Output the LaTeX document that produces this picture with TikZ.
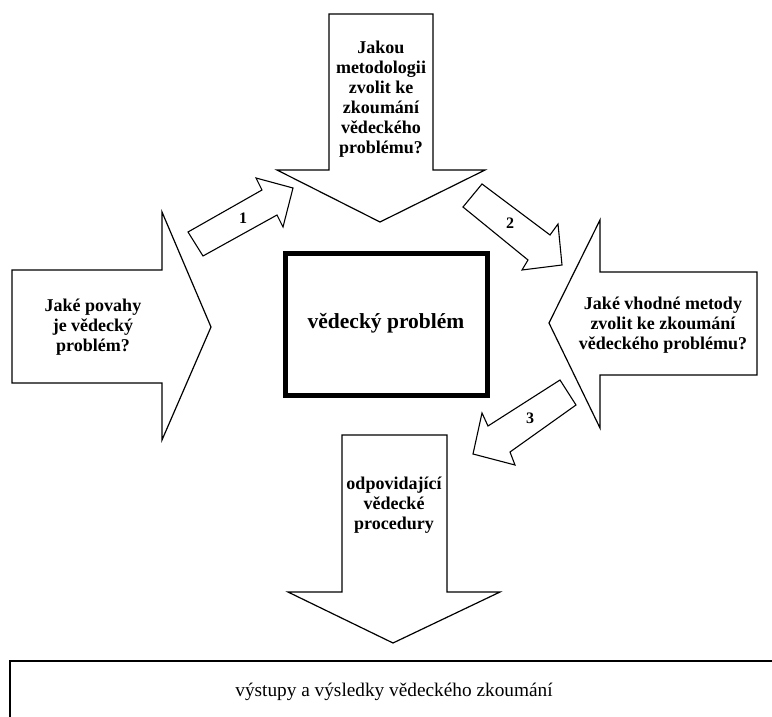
\documentclass[tikz,border=0pt]{standalone}
\usepackage{fontspec}
\setmainfont{Liberation Serif}
\begin{document}
\begin{tikzpicture}[x=1pt,y=-1pt,
  bigarrow/.style={draw=black,line width=1.2pt,line join=miter,fill=white},
  smallarrow/.style={draw=black,line width=1.1pt,line join=miter,fill=white},
  label/.style={align=center,inner sep=0pt,font=\bfseries\fontsize{18}{20}\selectfont},
  num/.style={inner sep=0pt,font=\bfseries\fontsize{16}{16}\selectfont}]
\useasboundingbox (0,0) rectangle (772,717);

% top arrow pointing down at the problem
\draw[bigarrow] (329,14) -- (433,14) -- (433,170) -- (485,170) -- (380,222)
  -- (277,170) -- (329,170) -- cycle;
\node[label] (top) at (381,99) {Jakou\\metodologii\\zvolit ke\\zkoumání\\vědeckého\\problému?};

% left arrow pointing right
\draw[bigarrow] (12,270) -- (162,270) -- (162,212) -- (211,327) -- (162,440)
  -- (162,383) -- (12,383) -- cycle;
\node[label] (left) at (93,327) {Jaké povahy\\je vědecký\\problém?};

% right arrow pointing left
\draw[bigarrow] (757,272) -- (600,272) -- (600,220) -- (549,323) -- (600,428)
  -- (600,375) -- (757,375) -- cycle;
\node[label] (right) at (663,325) {Jaké vhodné metody\\zvolit ke zkoumání\\vědeckého problému?};

% bottom arrow leading to the results
\draw[bigarrow] (342,435) -- (447,435) -- (447,592) -- (500,592) -- (393,643)
  -- (288,592) -- (342,592) -- cycle;
\node[label] (bottom) at (394,505) {odpovidající\\vědecké\\procedury};

% central box
\draw[line width=5pt] (285,253) rectangle (487,395);
\node[label,font=\bfseries\fontsize{21.5}{24}\selectfont] (problem) at (386,323) {vědecký problém};

% results box, running off the right and bottom edges
\begin{scope}
\clip (0,0) rectangle (772,717);
\draw[line width=1.6pt] (10,725) -- (10,661) -- (780,661);
\end{scope}
\node[label,font=\fontsize{19.3}{21}\selectfont] (results) at (394,692) {výstupy a výsledky vědeckého zkoumání};

% numbered step arrows
\draw[smallarrow] (188,232) -- (262,190) -- (256,178) -- (293,188) -- (283,227)
  -- (277,215) -- (203,256) -- cycle;
\node[num] (n1) at (243,218) {1};

\draw[smallarrow] (482,184) -- (550,235) -- (558,224) -- (562,265) -- (522,270)
  -- (528,260) -- (463,207) -- cycle;
\node[num] (n2) at (510,223) {2};

\draw[smallarrow] (560,380) -- (488,426) -- (482,413) -- (473,454) -- (515,465)
  -- (510,452) -- (576,405) -- cycle;
\node[num] (n3) at (530,418) {3};
\end{tikzpicture}
\end{document}
